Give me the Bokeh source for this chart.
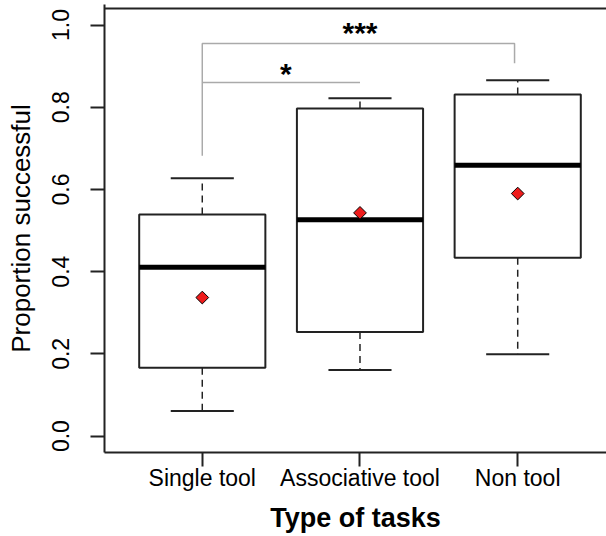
import numpy as np
from bokeh.plotting import figure
from bokeh.models import FixedTicker, NumeralTickFormatter, Range1d
from bokeh.core.properties import value
from bokeh.embed import file_html
from bokeh.resources import INLINE

# ---- data ----
categories = ["Single tool", "Associative tool", "Non tool"]
positions = [1, 2, 3]
lower_whisker = [0.061, 0.161, 0.199]
q1 = [0.166, 0.253, 0.434]
median = [0.411, 0.526, 0.659]
q3 = [0.539, 0.797, 0.831]
upper_whisker = [0.627, 0.822, 0.866]
means = [0.337, 0.543, 0.590]

# significance brackets (x in category units, y in proportion)
bracket_xs = [[1, 1, 2], [1, 1, 2.98, 2.98]]
bracket_ys = [[0.682, 0.86, 0.86], [0.86, 0.955, 0.955, 0.907]]
sig_labels = ["*", "***"]
sig_x = [1.53, 2.0]
sig_y = [0.882, 0.983]

y_ticks = [0.0, 0.2, 0.4, 0.6, 0.8, 1.0]

FONT = "Liberation Sans"
BOXW = 0.8
CAPW = 0.4
DARK = "#222222"

xr = Range1d(0.38, 3.563)
yr = Range1d(-0.04, 1.05)
p = figure(width=606, height=536, x_range=xr, y_range=yr,
           output_backend="svg", toolbar_location=None,
           min_border_left=104, min_border_right=0,
           min_border_top=4, min_border_bottom=84)
p.outline_line_color = None
p.xgrid.grid_line_color = None
p.ygrid.grid_line_color = None
p.background_fill_color = "white"
p.border_fill_color = "white"

pos = np.array(positions, dtype=float)

# frame top line (drawn inside the plotting region)
top_y = 1.04
p.segment(x0=[xr.start], y0=[top_y], x1=[xr.end], y1=[top_y],
          line_color=DARK, line_width=2)

# whiskers (dashed)
p.segment(x0=pos, y0=q3, x1=pos, y1=upper_whisker,
          line_color=DARK, line_width=1.5, line_dash="7 5")
p.segment(x0=pos, y0=q1, x1=pos, y1=lower_whisker,
          line_color=DARK, line_width=1.5, line_dash="7 5")
# whisker caps
p.segment(x0=pos - CAPW / 2, y0=upper_whisker, x1=pos + CAPW / 2, y1=upper_whisker,
          line_color=DARK, line_width=2)
p.segment(x0=pos - CAPW / 2, y0=lower_whisker, x1=pos + CAPW / 2, y1=lower_whisker,
          line_color=DARK, line_width=2)
# boxes
p.vbar(x=pos, width=BOXW, top=q3, bottom=q1,
       fill_color="white", line_color=DARK, line_width=2)
# medians
p.segment(x0=pos - BOXW / 2, y0=median, x1=pos + BOXW / 2, y1=median,
          line_color="black", line_width=5)
# means
p.scatter(x=pos, y=means, marker="square", angle=np.pi / 4, size=9,
          fill_color="#ee1c1c", line_color="black", line_width=1)

# significance brackets
p.multi_line(xs=bracket_xs, ys=bracket_ys, line_color="#aaaaaa", line_width=1.5)
p.text(x=sig_x, y=sig_y, text=sig_labels,
       text_font=value(FONT), text_font_style="bold", text_font_size="30px",
       text_align="center", text_baseline="middle", text_color="black")

# axes
p.xaxis.ticker = FixedTicker(ticks=positions)
p.xaxis.major_label_overrides = {k: v for k, v in zip(positions, categories)}
p.yaxis.ticker = FixedTicker(ticks=y_ticks)
p.yaxis.formatter = NumeralTickFormatter(format="0.0")
p.yaxis.major_label_orientation = "vertical"

for ax in (p.xaxis[0], p.yaxis[0]):
    ax.axis_line_color = DARK
    ax.axis_line_width = 2
    ax.major_tick_line_color = DARK
    ax.major_tick_line_width = 2
    ax.major_tick_out = 14
    ax.major_tick_in = 0
    ax.minor_tick_line_color = None
    ax.major_label_text_font = FONT
    ax.major_label_text_font_size = "23px"
    ax.major_label_text_color = "black"
    ax.axis_label_text_font = FONT
    ax.axis_label_text_color = "black"

p.xaxis.major_label_standoff = -2
p.xaxis.axis_label = "Type of tasks"
p.xaxis.axis_label_text_font_size = "27px"
p.xaxis.axis_label_text_font_style = "bold"
p.xaxis.axis_label_standoff = 9

p.yaxis.major_label_standoff = 21
p.yaxis.axis_label = "Proportion successful"
p.yaxis.axis_label_text_font_size = "26px"
p.yaxis.axis_label_text_font_style = "normal"
p.yaxis.axis_label_standoff = 14

open("out.html", "w").write(file_html(p, INLINE))
